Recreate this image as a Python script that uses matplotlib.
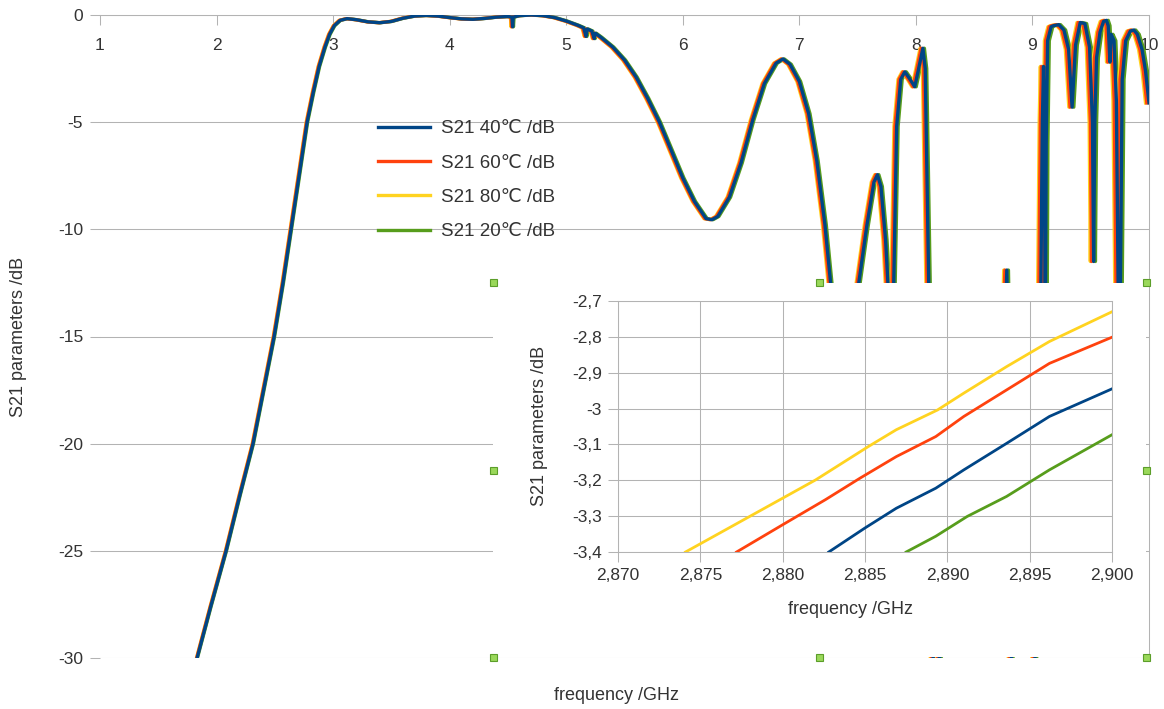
import numpy as np
import matplotlib
matplotlib.use("Agg")
import matplotlib.pyplot as plt
from matplotlib.patches import Rectangle
from matplotlib.lines import Line2D

plt.rcParams['font.family'] = ['Liberation Sans', 'DejaVu Sans']
plt.rcParams['axes.unicode_minus'] = False

# ---------------------------------------------------------------- data
# S21 transmission of the 40 degC sample, wide band (GHz, dB)
freq_40 = [1.78, 1.833, 1.95, 2.082, 2.20, 2.313, 2.40, 2.494, 2.57, 2.639,
           2.71, 2.777, 2.83, 2.88, 2.93, 2.97, 3.01, 3.06, 3.12, 3.20, 3.30,
           3.40, 3.50, 3.60, 3.70, 3.80, 3.90, 4.00, 4.10, 4.20, 4.30,
           4.40, 4.50, 4.535, 4.54, 4.545, 4.60, 4.70, 4.80, 4.90, 5.00,
           5.10, 5.15, 5.17, 5.18, 5.22, 5.24, 5.25, 5.30, 5.40, 5.50,
           5.60, 5.70, 5.80, 5.90, 6.00, 6.10, 6.20, 6.25, 6.30, 6.40,
           6.50, 6.60, 6.70, 6.80, 6.86, 6.92, 7.00, 7.08, 7.15, 7.22,
           7.27, 7.35, 7.42, 7.51, 7.58, 7.64, 7.67, 7.70, 7.74, 7.76,
           7.79, 7.81, 7.835, 7.87, 7.905, 7.95, 7.99, 8.02, 8.06, 8.08,
           8.11, 8.13, 8.15, 8.40, 8.60, 8.75, 8.78, 8.80, 8.82, 8.88,
           8.95, 9.02, 9.06, 9.085, 9.095, 9.103, 9.11, 9.118, 9.13, 9.16,
           9.18, 9.226, 9.27, 9.31, 9.34, 9.37, 9.41, 9.45, 9.49, 9.515,
           9.525, 9.535, 9.55, 9.58, 9.61, 9.635, 9.65, 9.665, 9.675, 9.70,
           9.72, 9.735, 9.745, 9.755, 9.77, 9.80, 9.84, 9.87, 9.90, 9.94,
           9.97, 10.0]
s21_40 = [-32.0, -30.0, -27.6, -25.0, -22.4, -20.0, -17.6, -15.0, -12.5, -10.0,
          -7.4, -5.0, -3.6, -2.4, -1.5, -0.9, -0.5, -0.25, -0.17, -0.22, -0.32,
          -0.36, -0.30, -0.15, -0.05, -0.02, -0.05, -0.12, -0.18, -0.20, -0.16,
          -0.10, -0.07, -0.10, -0.55, -0.10, -0.03, 0.0, -0.03, -0.12, -0.28,
          -0.48, -0.60, -1.00, -0.65, -0.75, -1.10, -0.85, -1.05, -1.50, -2.10,
          -2.90, -3.90, -5.00, -6.30, -7.60, -8.70, -9.50, -9.55, -9.40, -8.50,
          -6.90, -4.90, -3.20, -2.25, -2.05, -2.30, -3.10, -4.60, -6.80, -9.80,
          -12.6, -18.0, -22.0, -12.5, -9.80, -7.80, -7.45, -8.00, -10.5, -12.5,
          -20.0, -12.5, -5.20, -3.00, -2.65, -3.00, -3.35, -2.60, -1.55, -2.50,
          -12.5, -25.0, -30.5, -28.0, -25.0, -18.0, -11.9, -18.0, -30.5, -30.5,
          -30.5, -30.5, -20.0, -5.00, -2.40, -6.00, -16.0, -6.00, -1.20, -0.55,
          -0.50, -0.45, -0.70, -1.60, -4.30, -1.40, -0.35, -0.40, -1.50, -5.00,
          -11.5, -5.00, -2.00, -0.80, -0.30, -0.25, -0.50, -2.20, -0.90, -1.20,
          -4.00, -12.5, -20.0, -12.5, -3.00, -1.20, -0.75, -0.70, -0.90, -1.60,
          -2.60, -4.10]

# relative frequency drift of each sample against the 40 degC curve
labels = ["S21 40\u2103 /dB", "S21 60\u2103 /dB", "S21 80\u2103 /dB", "S21 20\u2103 /dB"]
colors = ["#004586", "#ff420e", "#ffd320", "#579d1c"]
drift = [0.0, -0.0019, -0.0030, 0.0016]

# zoom around the 3 dB point (GHz, dB)
zoom_f_40 = [2.8828, 2.8850, 2.8869, 2.8893, 2.8910, 2.8936, 2.8962, 2.9000]
zoom_s_40 = [-3.400, -3.333, -3.278, -3.222, -3.171, -3.097, -3.022, -2.945]
zoom_f_60 = [2.8772, 2.8800, 2.8826, 2.8847, 2.8869, 2.8893, 2.8910, 2.8936, 2.8962, 2.9000]
zoom_s_60 = [-3.400, -3.324, -3.254, -3.194, -3.134, -3.078, -3.022, -2.948, -2.874, -2.801]
zoom_f_80 = [2.8741, 2.8820, 2.8852, 2.8869, 2.8894, 2.8910, 2.8936, 2.8962, 2.9000]
zoom_s_80 = [-3.400, -3.199, -3.106, -3.059, -3.004, -2.957, -2.883, -2.813, -2.730]
zoom_f_20 = [2.8875, 2.8893, 2.8912, 2.8936, 2.8962, 2.9000]
zoom_s_20 = [-3.400, -3.356, -3.301, -3.245, -3.171, -3.073]

main_xticks = [1, 2, 3, 4, 5, 6, 7, 8, 9, 10]
main_yticks = [0, -5, -10, -15, -20, -25, -30]
zoom_xticks = [2.870, 2.875, 2.880, 2.885, 2.890, 2.895, 2.900]
zoom_xlabels = ["2,870", "2,875", "2,880", "2,885", "2,890", "2,895", "2,900"]
zoom_yticks = [-2.7, -2.8, -2.9, -3.0, -3.1, -3.2, -3.3, -3.4]
zoom_ylabels = ["-2,7", "-2,8", "-2,9", "-3", "-3,1", "-3,2", "-3,3", "-3,4"]

# ---------------------------------------------------------------- layout
W, H = 1164, 709
GRID = "#b3b3b3"
TXT = "#333333"
TICK_FS = 12.5
TITLE_FS = 13
LEG_FS = 13.5


def box(x0, y0, x1, y1):
    """pixel box (top-left origin) -> figure fraction rect"""
    return [x0 / W, 1 - y1 / H, (x1 - x0) / W, (y1 - y0) / H]


fig = plt.figure(figsize=(W / 100, H / 100), dpi=100)
fig.patch.set_facecolor("white")

# ---------------------------------------------------------------- main chart
ax = fig.add_axes(box(100, 15, 1149, 658))
ax.set_zorder(1)
f40 = np.array(freq_40)
order = [3, 2, 1, 0]
for i in order:
    ax.plot(f40 * (1 + drift[i]), s21_40, color=colors[i], lw=2.4,
            solid_joinstyle="round", zorder=3)

ax.set_xlim(1, 10)
ax.set_ylim(-30, 0)
ax.set_xticks(main_xticks)
ax.set_xticklabels([str(t) for t in main_xticks])
ax.set_yticks(main_yticks)
ax.set_yticklabels([str(t) for t in main_yticks])
ax.xaxis.tick_top()
ax.tick_params(axis="x", direction="in", length=7.2, width=0.75, color=GRID,
               pad=-27, labelsize=TICK_FS, labelcolor=TXT)
ax.tick_params(axis="y", direction="out", length=7.2, width=0.75, color=GRID,
               pad=5, labelsize=TICK_FS, labelcolor=TXT)
ax.grid(axis="y", color=GRID, lw=0.75)
ax.set_axisbelow(True)
for side in ("left", "bottom"):
    ax.spines[side].set_visible(False)
for side in ("top", "right"):
    ax.spines[side].set_color(GRID)
    ax.spines[side].set_linewidth(0.75)

fig.text(19 / W, 1 - 337 / H, "S21 parameters /dB", rotation=90,
         ha="center", va="center", fontsize=TITLE_FS, color=TXT)
fig.text(617 / W, 1 - 695 / H, "frequency /GHz", ha="center", va="center",
         fontsize=TITLE_FS, color=TXT)

handles = [Line2D([0], [0], color=c, lw=2.4) for c in colors]
leg = ax.legend(handles, labels, loc="upper left",
                bbox_to_anchor=(378 / W, 1 - 120 / H),
                bbox_transform=fig.transFigure, frameon=False,
                fontsize=LEG_FS, handlelength=2.75, handletextpad=0.6,
                labelspacing=0.92, borderpad=0, borderaxespad=0)
for t in leg.get_texts():
    t.set_color(TXT)

# ---------------------------------------------------------------- inset
cover = fig.add_axes(box(493, 283, 1146, 657))
cover.set_zorder(2)
cover.set_facecolor("white")
cover.set_xticks([])
cover.set_yticks([])
for s in cover.spines.values():
    s.set_visible(False)

ins = fig.add_axes(box(618, 301, 1112, 552))
ins.set_zorder(3)
ins.set_facecolor("white")
zoom_sets = [(zoom_f_40, zoom_s_40), (zoom_f_60, zoom_s_60),
             (zoom_f_80, zoom_s_80), (zoom_f_20, zoom_s_20)]
for (zf, zs), c in zip(zoom_sets, colors):
    ins.plot(zf, zs, color=c, lw=2.0, solid_joinstyle="round", zorder=3)
ins.set_xlim(2.870, 2.900)
ins.set_ylim(-3.4, -2.7)
ins.set_xticks(zoom_xticks)
ins.set_xticklabels(zoom_xlabels)
ins.set_yticks(zoom_yticks)
ins.set_yticklabels(zoom_ylabels)
ins.tick_params(direction="out", length=7.5, width=0.75, color=GRID,
                labelsize=TICK_FS, labelcolor=TXT, pad=4)
ins.grid(color=GRID, lw=0.75)
ins.set_axisbelow(True)
for s in ins.spines.values():
    s.set_color(GRID)
    s.set_linewidth(0.75)
fig.text(540 / W, 1 - 426 / H, "S21 parameters /dB", rotation=90,
         ha="center", va="center", fontsize=TITLE_FS, color=TXT)
fig.text(851 / W, 1 - 610 / H, "frequency /GHz", ha="center", va="center",
         fontsize=TITLE_FS, color=TXT)

# selection handles around the inset
for hx in (493, 820, 1146):
    for hy in (283, 470, 657):
        if hx == 820 and hy == 470:
            continue
        fig.add_artist(Rectangle(((hx - 3.5) / W, 1 - (hy + 3.5) / H), 7 / W, 7 / H,
                                 transform=fig.transFigure, facecolor="#9ad85a",
                                 edgecolor="#5c9e2a", lw=0.8, zorder=10))

fig.savefig("out.png", dpi=100, facecolor="white")
